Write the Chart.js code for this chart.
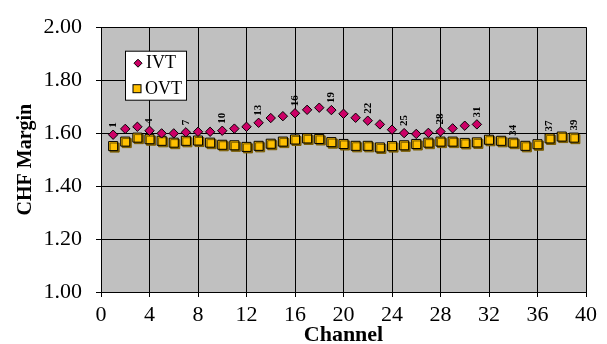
<!DOCTYPE html>
<html>
<head>
<meta charset="utf-8">
<script src="https://cdn.jsdelivr.net/npm/chart.js@4/dist/chart.umd.min.js"></script>
<style>
html,body{margin:0;padding:0;background:#fff;}
#wrap{width:607px;height:344px;}
</style>
</head>
<body>
<div id="wrap"><canvas id="c" width="607" height="344"></canvas></div>
<script>
// ---- data ----
const ivtChannels = [1,2,3,4,5,6,7,8,9,10,11,12,13,14,15,16,17,18,19,20,21,22,23,24,25,26,27,28,29,30,31];
const ivtValues = [1.594,1.616,1.624,1.609,1.599,1.599,1.603,1.605,1.605,1.609,1.617,1.624,1.639,1.657,1.664,1.675,1.688,1.696,1.687,1.673,1.658,1.647,1.633,1.613,1.600,1.597,1.601,1.606,1.618,1.628,1.633];
const ovtChannels = [1,2,3,4,5,6,7,8,9,10,11,12,13,14,15,16,17,18,19,20,21,22,23,24,25,26,27,28,29,30,31,32,33,34,35,36,37,38,39];
const ovtValues = [1.551,1.568,1.583,1.577,1.571,1.564,1.571,1.572,1.564,1.556,1.554,1.548,1.552,1.560,1.568,1.576,1.580,1.578,1.566,1.559,1.552,1.552,1.546,1.551,1.554,1.559,1.564,1.568,1.568,1.563,1.565,1.575,1.571,1.564,1.552,1.558,1.580,1.587,1.583];
const ivtLabelChannels = [1,4,7,10,13,16,19,22,25,28,31];
const ovtLabelChannels = [34,37,39];
const seriesNames = ['IVT','OVT'];
const xTicks = [0,4,8,12,16,20,24,28,32,36,40];
const yTicks = [1.0,1.2,1.4,1.6,1.8,2.0];
const xTitle = 'Channel';
const yTitle = 'CHF Margin';

const FONT = "'Liberation Serif','Times New Roman',serif";
const ivtColor = '#CC0066';
const ovtColor = '#FFC000';

const plotBg = {
  id: 'plotBg',
  beforeDraw(chart) {
    const {ctx, chartArea: a} = chart;
    ctx.save();
    ctx.fillStyle = '#C0C0C0';
    ctx.fillRect(a.left, a.top, a.right - a.left, a.bottom - a.top);
    ctx.restore();
  }
};

const shadow = {
  id: 'shadow',
  beforeDatasetDraw(chart, args) {
    if (args.index === 1) {
      const ctx = chart.ctx;
      ctx.save();
      ctx.shadowColor = '#7A5C00';
      ctx.shadowOffsetX = 1.5;
      ctx.shadowOffsetY = 1.5;
      ctx.shadowBlur = 0;
    }
  },
  afterDatasetDraw(chart, args) {
    if (args.index === 1) chart.ctx.restore();
  }
};

const pointLabels = {
  id: 'pointLabels',
  afterDatasetsDraw(chart) {
    const ctx = chart.ctx;
    const sets = [[0, ivtChannels, ivtLabelChannels], [1, ovtChannels, ovtLabelChannels]];
    ctx.save();
    ctx.font = "bold 11px " + FONT;
    ctx.fillStyle = '#000';
    ctx.textAlign = 'left';
    ctx.textBaseline = 'middle';
    for (const [di, chans, labs] of sets) {
      const meta = chart.getDatasetMeta(di);
      for (const ch of labs) {
        const idx = chans.indexOf(ch);
        const el = meta.data[idx];
        if (!el) continue;
        ctx.save();
        ctx.translate(el.x, el.y - 7);
        ctx.rotate(-Math.PI / 2);
        ctx.fillText(String(ch), 0, 0);
        ctx.restore();
      }
    }
    ctx.restore();
  }
};

const boxLegend = {
  id: 'boxLegend',
  afterDatasetsDraw(chart) {
    const ctx = chart.ctx, a = chart.chartArea;
    const bx = a.left + 24.5, by = a.top + 24, bw = 61, bh = 49;
    ctx.save();
    ctx.fillStyle = '#fff';
    ctx.strokeStyle = '#000';
    ctx.lineWidth = 1;
    ctx.fillRect(bx, by, bw, bh);
    ctx.strokeRect(bx, by, bw, bh);
    // IVT marker (diamond)
    const d0 = chart.data.datasets[0], d1 = chart.data.datasets[1];
    let cx = bx + 12.5, cy = by + 12;
    ctx.beginPath();
    ctx.moveTo(cx, cy - 4); ctx.lineTo(cx + 4, cy); ctx.lineTo(cx, cy + 4); ctx.lineTo(cx - 4, cy); ctx.closePath();
    ctx.fillStyle = d0.backgroundColor; ctx.fill(); ctx.stroke();
    // OVT marker (square)
    cx = bx + 11.5; cy = by + 37.5;
    ctx.fillStyle = d1.backgroundColor;
    ctx.fillRect(cx - 4, cy - 4, 8, 8);
    ctx.strokeRect(cx - 4, cy - 4, 8, 8);
    ctx.fillStyle = '#000';
    ctx.font = "18px " + FONT;
    ctx.textBaseline = 'middle';
    ctx.textAlign = 'left';
    ctx.fillText(d0.label, bx + 20.5, by + 12.5);
    ctx.fillText(d1.label, bx + 19.5, by + 38);
    ctx.restore();
  }
};

new Chart(document.getElementById('c'), {
  type: 'scatter',
  data: {
    datasets: [
      {
        label: seriesNames[0],
        data: ivtChannels.map((c, i) => ({x: c, y: ivtValues[i]})),
        pointStyle: 'rectRot',
        pointRadius: 4.7,
        backgroundColor: ivtColor,
        borderColor: '#000',
        borderWidth: 1,
        showLine: false
      },
      {
        label: seriesNames[1],
        data: ovtChannels.map((c, i) => ({x: c, y: ovtValues[i]})),
        pointStyle: 'rect',
        pointRadius: 6.4,
        backgroundColor: ovtColor,
        borderColor: '#000',
        borderWidth: 1,
        showLine: false
      }
    ]
  },
  options: {
    responsive: false,
    animation: false,
    events: [],
    layout: {padding: {top: 17, right: 21, left: 0, bottom: 0}},
    plugins: {legend: {display: false}, tooltip: {enabled: false}},
    scales: {
      x: {
        type: 'linear',
        min: 0, max: 40,
        afterBuildTicks: s => { s.ticks = xTicks.map(v => ({value: v})); },
        afterFit: s => { s.height = 52; },
        grid: {color: '#000', lineWidth: 1, tickLength: 5, tickColor: '#000', drawTicks: true},
        border: {color: '#000', width: 1},
        ticks: {
          font: {family: FONT, size: 22}, color: '#000', padding: 5,
          maxRotation: 0, minRotation: 0, autoSkip: false,
          callback: v => String(v)
        },
        title: {display: true, text: xTitle, color: '#000',
          font: {family: FONT, size: 22, weight: 'bold'}, padding: {top: 0, bottom: -5}}
      },
      y: {
        type: 'linear',
        min: 1, max: 2,
        afterBuildTicks: s => { s.ticks = yTicks.map(v => ({value: v})); },
        afterFit: s => { s.width = 101; },
        grid: {color: '#000', lineWidth: 1, tickLength: 5, tickColor: '#000'},
        border: {color: '#000', width: 1},
        ticks: {
          font: {family: FONT, size: 22}, color: '#000', padding: 14,
          autoSkip: false,
          callback: v => Number(v).toFixed(2)
        },
        title: {display: true, text: yTitle, color: '#000',
          font: {family: FONT, size: 20, weight: 'bold'}, padding: {top: 14, bottom: 0}}
      }
    }
  },
  plugins: [plotBg, shadow, pointLabels, boxLegend]
});
</script>
</body>
</html>
